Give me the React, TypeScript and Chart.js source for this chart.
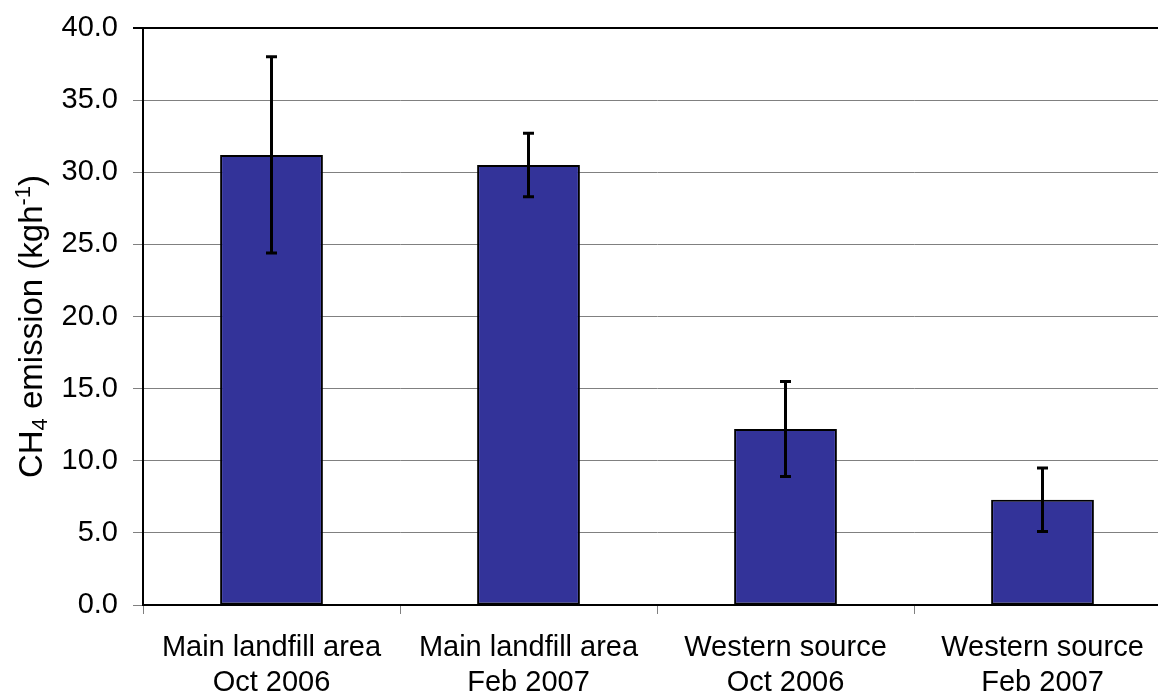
import React, { useEffect, useRef } from "react";
import { Chart, registerables } from "chart.js";

Chart.register(...registerables);

const categories: string[][] = [
  ["Main landfill area", "Oct 2006"],
  ["Main landfill area", "Feb 2007"],
  ["Western source", "Oct 2006"],
  ["Western source", "Feb 2007"],
];
const emission: number[] = [31.2, 30.5, 12.2, 7.3];
const errorHigh: number[] = [38.0, 32.7, 15.5, 9.5];
const errorLow: number[] = [24.4, 28.3, 8.9, 5.1];
const yTicks: number[] = [0, 5, 10, 15, 20, 25, 30, 35, 40];
// y-axis title pieces: [text, kind] where kind is normal / sub / sup
const yTitleParts: [string, string][] = [
  ["CH", "normal"],
  ["4", "sub"],
  [" emission (kgh", "normal"],
  ["-1", "sup"],
  [")", "normal"],
];

const FONT = "'Liberation Sans', Arial, Helvetica, sans-serif";
const TITLE_SIZE = 33;

const errorBarPlugin = {
  id: "errorBars",
  afterDatasetsDraw(chart: any) {
    const meta = chart.getDatasetMeta(0);
    const yScale = chart.scales.y;
    const ctx = chart.ctx;
    ctx.save();
    ctx.strokeStyle = "#000";
    ctx.lineWidth = 3;
    meta.data.forEach((bar: any, i: number) => {
      const x = bar.x;
      const yHi = yScale.getPixelForValue(errorHigh[i]);
      const yLo = yScale.getPixelForValue(errorLow[i]);
      ctx.beginPath();
      ctx.moveTo(x, yHi);
      ctx.lineTo(x, yLo);
      ctx.moveTo(x - 5.5, yHi);
      ctx.lineTo(x + 5.5, yHi);
      ctx.moveTo(x - 5.5, yLo);
      ctx.lineTo(x + 5.5, yLo);
      ctx.stroke();
    });
    ctx.restore();
  },
};

const yTitlePlugin = {
  id: "yTitleRich",
  afterDraw(chart: any) {
    const ctx = chart.ctx;
    const area = chart.chartArea;
    const S = TITLE_SIZE;
    const small = Math.round(S * 0.66);
    const fontFor = (k: string) => `${k === "normal" ? S : small}px ${FONT}`;
    ctx.save();
    let total = 0;
    const widths = yTitleParts.map(([t, k]) => {
      ctx.font = fontFor(k);
      const w = ctx.measureText(t).width;
      total += w;
      return w;
    });
    const cy = (area.top + area.bottom) / 2 + 10;
    const baseX = 42;
    ctx.translate(baseX, cy);
    ctx.rotate(-Math.PI / 2);
    ctx.fillStyle = "#000";
    ctx.textBaseline = "alphabetic";
    ctx.textAlign = "left";
    let x = -total / 2;
    yTitleParts.forEach(([t, k], i) => {
      ctx.font = fontFor(k);
      const dy = k === "sub" ? S * 0.16 : k === "sup" ? -S * 0.36 : 0;
      ctx.fillText(t, x, dy);
      x += widths[i];
    });
    ctx.restore();
  },
};

export default function App() {
  const ref = useRef<HTMLCanvasElement | null>(null);

  useEffect(() => {
    if (!ref.current) return;
    Chart.defaults.font.family = FONT;
    Chart.defaults.color = "#000";
    const chart = new Chart(ref.current, {
      type: "bar",
      data: {
        labels: categories,
        datasets: [
          {
            data: emission,
            backgroundColor: "#333399",
            borderColor: "#000",
            borderWidth: 2,
            borderSkipped: false,
            categoryPercentage: 1,
            barPercentage: 0.4,
          },
        ],
      },
      options: {
        responsive: false,
        animation: false,
        devicePixelRatio: 1,
        layout: { padding: { top: 28, right: 9, left: 0, bottom: 0 } },
        plugins: {
          legend: { display: false },
          tooltip: { enabled: false },
        },
        scales: {
          x: {
            offset: true,
            grid: {
              offset: true,
              drawOnChartArea: false,
              drawTicks: true,
              tickLength: 9,
              color: "#808080",
            },
            border: { display: true, color: "#000", width: 2 },
            ticks: {
              font: { size: 29, family: FONT },
              color: "#000",
              padding: 17,
              maxRotation: 0,
              autoSkip: false,
            },
            afterFit: (scale: any) => {
              scale.height = 92;
            },
          },
          y: {
            min: 0,
            max: 40,
            afterBuildTicks: (scale: any) => {
              scale.ticks = yTicks.map((v) => ({ value: v }));
            },
            grid: {
              color: (c: any) => (c.tick && c.tick.value === 40 ? "#000" : "#808080"),
              lineWidth: (c: any) => (c.tick && c.tick.value === 40 ? 2 : 1),
              tickLength: 10,
              drawTicks: true,
            },
            border: { display: true, color: "#000", width: 2 },
            ticks: {
              font: { size: 29, family: FONT },
              color: "#000",
              padding: 15,
              callback: (v: any) => Number(v).toFixed(1),
            },
            title: { display: false },
            afterFit: (scale: any) => {
              scale.width = 143;
              scale.paddingTop = 0;
              scale.paddingBottom = 0;
            },
          },
        },
      },
      plugins: [errorBarPlugin, yTitlePlugin],
    });
    return () => chart.destroy();
  }, []);

  return (
    <div
      style={{
        position: "fixed",
        left: 0,
        top: 0,
        width: 1158,
        height: 697,
        overflow: "hidden",
        background: "#fff",
      }}
    >
      <canvas ref={ref} width={1180} height={697} style={{ display: "block" }} />
    </div>
  );
}
